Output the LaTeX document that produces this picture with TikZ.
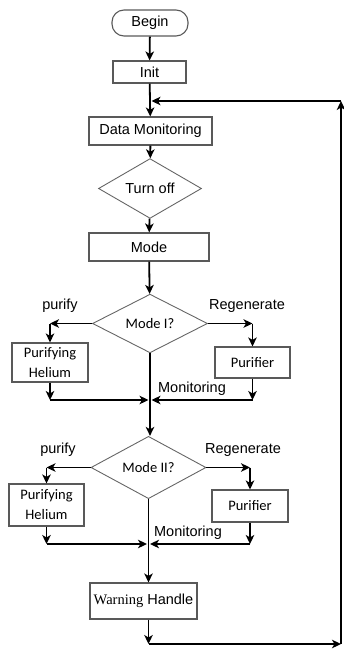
\documentclass[tikz,border=0pt]{standalone}
\usepackage{fontspec}
\setmainfont{Liberation Sans}
\newfontfamily\calib{Carlito}
\newfontfamily\tnr{Liberation Serif}
\usetikzlibrary{shapes.geometric,arrows.meta}
\begin{document}
\begin{tikzpicture}[x=1bp,y=-1bp,
  every node/.style={font=\fontsize{14.5bp}{17bp}\selectfont, inner sep=0pt},
  box/.style={draw=black!65, line width=1.1bp, rectangle},
  term/.style={draw=black!65, line width=1.1bp, rectangle, rounded corners=12bp},
  dia/.style={draw=black!60, line width=0.9bp, diamond},
  cal/.style={font=\calib\fontsize{14.5bp}{20bp}\selectfont, align=center},
  arr/.style={-{Stealth[length=9bp,width=8.5bp,inset=2.5bp]}, line width=1.8bp, black}]
\useasboundingbox (0,0) rectangle (343,649);

\node[term, minimum width=76bp, minimum height=26bp] (begin) at (150,23) {Begin};
\node[box, minimum width=73bp, minimum height=22bp] (init) at (149.5,72) {Init};
\node[box, minimum width=123bp, minimum height=28bp] (dm) at (150.5,131) {Data Monitoring};
\node[dia, minimum width=103bp, minimum height=35bp] (off) at (150,188.5) {Turn off};
\node[box, minimum width=120bp, minimum height=28bp] (mode) at (149,247) {Mode};
\node[dia, cal, minimum width=115bp, minimum height=53bp] (m1) at (150,323.5) {Mode I?};
\node[box, cal, minimum width=76bp, minimum height=39bp] (ph1) at (50,362.5) {Purifying\\Helium};
\node[box, cal, minimum width=75bp, minimum height=31bp] (pu1) at (252.5,362.5) {Purifier};
\node[dia, cal, minimum width=115bp, minimum height=51bp] (m2) at (148.5,467.5) {Mode II?};
\node[box, cal, minimum width=75bp, minimum height=42bp] (ph2) at (46.5,505) {Purifying\\Helium};
\node[box, cal, minimum width=76bp, minimum height=32bp] (pu2) at (250,506) {Purifier};
\node[box, minimum width=107bp, minimum height=36bp] (wh) at (143.5,601) {{\tnr Warning} Handle};

\node (purify1) at (60,306) {purify};
\node (regen1) at (247,306) {Regenerate};
\node (mon1) at (192,389) {Monitoring};
\node (purify2) at (58,450) {purify};
\node (regen2) at (243,450) {Regenerate};
\node (mon2) at (188,533) {Monitoring};

\coordinate (jt) at (150,101);
\coordinate (j1) at (150,400);
\coordinate (j2) at (148.5,544);
\coordinate (lb) at (148.5,644);
\coordinate (rb) at (341,644);
\coordinate (rt) at (341,101);

\draw[arr] (begin) -- (init);
\draw[arr] (init) -- (dm);
\draw[arr] (dm) -- (off);
\draw[arr] (off) -- (mode);
\draw[arr] (mode) -- (m1);

\draw[arr] (m1.west) -- (m1.west -| ph1.north);
\draw[arr] (m1.west -| ph1.north) -- (ph1.north);
\draw[arr] (m1.east) -- (m1.east -| pu1.north);
\draw[arr] (m1.east -| pu1.north) -- (pu1.north);
\draw[arr] (ph1.south) -- (ph1.south |- j1);
\draw[arr, shorten >=1.5bp] (ph1.south |- j1) -- (j1);
\draw[arr] (pu1.south) -- (pu1.south |- j1);
\draw[arr, shorten >=1.5bp] (pu1.south |- j1) -- (j1);
\draw[arr] (m1.south) -- (m1.south |- m2.north);

\draw[arr] (m2.west) -- (m2.west -| ph2.north);
\draw[arr] (m2.west -| ph2.north) -- (ph2.north);
\draw[arr] (m2.east) -- (m2.east -| pu2.north);
\draw[arr] (m2.east -| pu2.north) -- (pu2.north);
\draw[arr] (ph2.south) -- (ph2.south |- j2);
\draw[arr, shorten >=1.5bp] (ph2.south |- j2) -- (j2);
\draw[arr] (pu2.south) -- (pu2.south |- j2);
\draw[arr, shorten >=1.5bp] (pu2.south |- j2) -- (j2);
\draw[arr] (m2.south) -- (m2.south |- wh.north);

\draw[arr] (wh.south -| lb) -- (lb);
\draw[arr] (lb) -- (rb);
\draw[arr] (rb) -- (rt);
\draw[arr, shorten >=1.5bp] (rt) -- (jt);
\end{tikzpicture}
\end{document}
